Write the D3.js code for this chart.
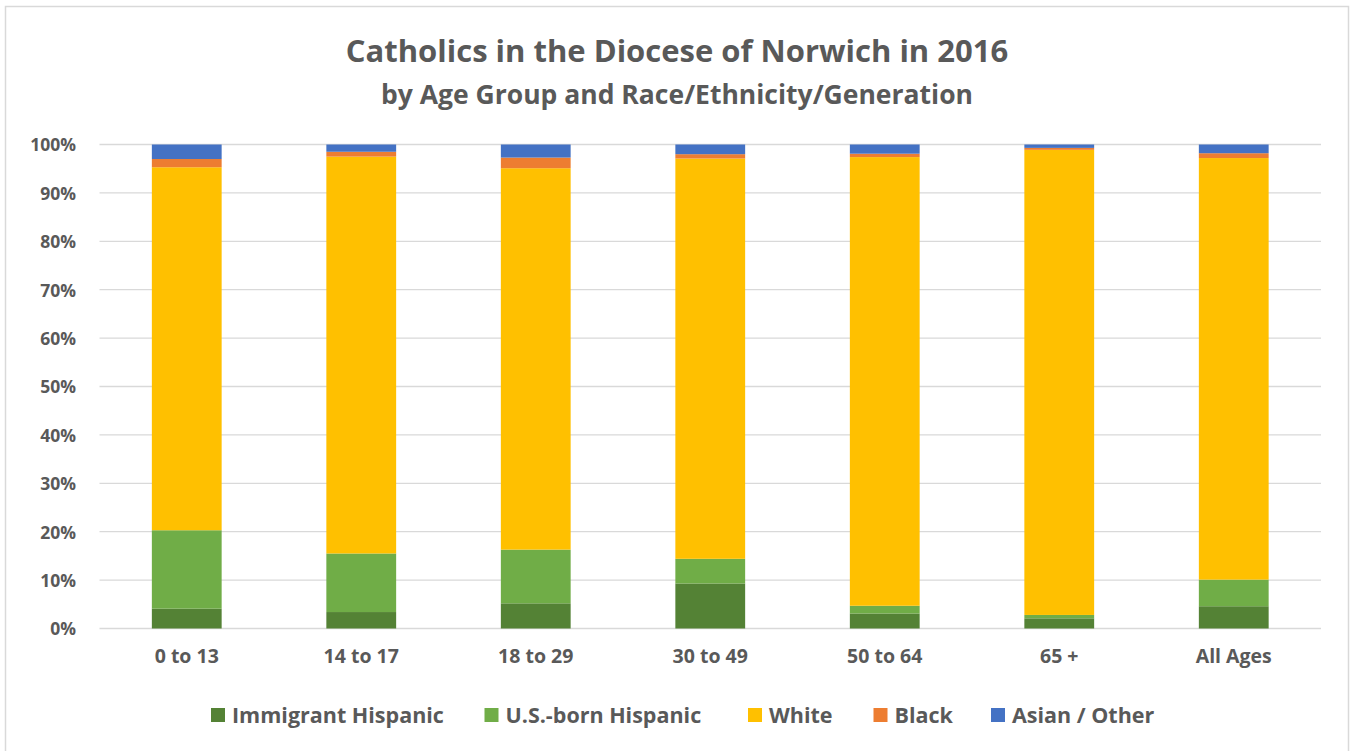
<!DOCTYPE html>
<html>
<head>
<meta charset="utf-8">
<script src="https://cdn.jsdelivr.net/npm/d3@7"></script>
<style>
  body{ margin:0; background:#fff; }
  svg text{ font-family:"Open Sans", "Noto Sans", sans-serif; font-weight:700; fill:#595959; }
</style>
</head>
<body>
<svg id="chart" width="1351" height="751"></svg>
<script>
// values (percent of each age group)
var groups = ["0 to 13", "14 to 17", "18 to 29", "30 to 49", "50 to 64", "65 +", "All Ages"];
var seriesNames = ["Immigrant Hispanic", "U.S.-born Hispanic", "White", "Black", "Asian / Other"];
var immigrantHispanic = [4.1, 3.4, 5.2, 9.3, 3.1, 2.1, 4.6];
var usBornHispanic    = [16.2, 12.1, 11.1, 5.1, 1.6, 0.7, 5.5];
var white             = [75.0, 82.0, 78.8, 82.7, 92.7, 96.1, 87.1];
var black             = [1.7, 1.0, 2.2, 0.9, 0.7, 0.4, 1.0];
var asianOther        = [3.0, 1.5, 2.7, 2.0, 1.9, 0.7, 1.8];
var yTicks = [0, 10, 20, 30, 40, 50, 60, 70, 80, 90, 100];
var colors = ["#548235", "#70AD47", "#FFC000", "#ED7D31", "#4472C4"];

var rows = groups.map(function(g, i){
  return {
    group: g,
    "Immigrant Hispanic": immigrantHispanic[i],
    "U.S.-born Hispanic": usBornHispanic[i],
    "White": white[i],
    "Black": black[i],
    "Asian / Other": asianOther[i]
  };
});

var svg = d3.select("#chart");

// outer chart border
svg.append("rect")
  .attr("x", 5.5).attr("y", 6.5).attr("width", 1343).attr("height", 760)
  .attr("fill", "none").attr("stroke", "#D9D9D9").attr("stroke-width", 1.5);

var x = d3.scaleBand().domain(groups).range([99.5, 1321]).paddingInner(0.6).paddingOuter(0.3);
var y = d3.scaleLinear().domain([0, 100]).range([628.5, 144.5]);

// gridlines
svg.append("g").selectAll("line").data(yTicks).enter().append("line")
  .attr("x1", 99.5).attr("x2", 1321)
  .attr("y1", function(d){ return y(d); }).attr("y2", function(d){ return y(d); })
  .attr("stroke", "#D9D9D9").attr("stroke-width", 1.3);

var stack = d3.stack().keys(seriesNames)(rows);

svg.append("g").selectAll("g").data(stack).enter().append("g")
  .attr("fill", function(d, i){ return colors[i]; })
  .selectAll("rect").data(function(d){ return d; }).enter().append("rect")
    .attr("x", function(d){ return x(d.data.group); })
    .attr("width", x.bandwidth())
    .attr("y", function(d){ return y(d[1]); })
    .attr("height", function(d){ return y(d[0]) - y(d[1]); });

// y axis
var yAxis = svg.append("g").attr("transform", "translate(76,0)")
  .call(d3.axisLeft(y).tickValues(yTicks).tickSize(0).tickPadding(0).tickFormat(function(d){ return d + "%"; }));
yAxis.select(".domain").remove();
yAxis.selectAll("text").attr("font-size", 17.5).attr("dy", "0.36em").style("font-family", null);

// x axis
var xAxis = svg.append("g").attr("transform", "translate(0,628.5)")
  .call(d3.axisBottom(x).tickSize(0).tickPadding(21));
xAxis.select(".domain").remove();
xAxis.selectAll("text").attr("font-size", 19.5).style("font-family", null);

// titles
svg.append("text").attr("x", 677).attr("y", 62).attr("text-anchor", "middle")
  .attr("font-size", 31).text("Catholics in the Diocese of Norwich in 2016");
svg.append("text").attr("x", 677).attr("y", 104).attr("text-anchor", "middle")
  .attr("font-size", 26.5).text("by Age Group and Race/Ethnicity/Generation");

// legend
var legendX = [211, 484.5, 748, 873.5, 991];
var legend = svg.append("g").selectAll("g").data(seriesNames).enter().append("g")
  .attr("transform", function(d, i){ return "translate(" + legendX[i] + ",708)"; });
legend.append("rect").attr("width", 14).attr("height", 14)
  .attr("fill", function(d, i){ return colors[i]; });
legend.append("text").attr("x", 21).attr("y", 15).attr("font-size", 21.5)
  .text(function(d){ return d; });
</script>
</body>
</html>
